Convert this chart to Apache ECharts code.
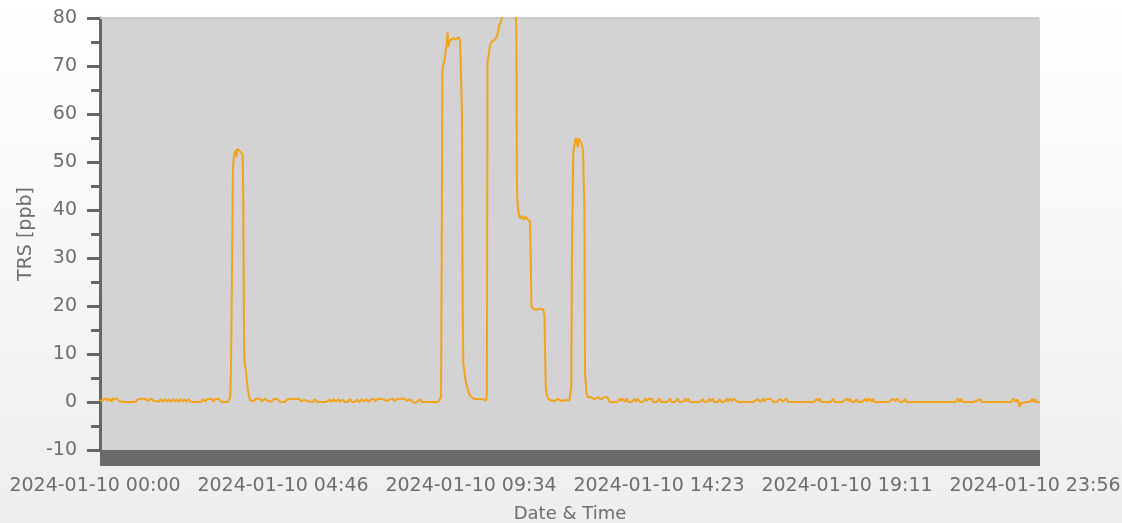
<!DOCTYPE html>
<html>
<head>
<meta charset="utf-8">
<title>TRS [ppb]</title>
<script src="https://cdn.jsdelivr.net/npm/echarts@6/dist/echarts.min.js"></script>
<style>
  html, body { margin: 0; padding: 0; }
  #chart { width: 1122px; height: 523px; }
</style>
</head>
<body>
<div id="chart"></div>
<script>
// Time axis runs in minutes after 2024-01-10 00:00.
const axisSpanMinutes = 1436;
const xTickLabels = [
  '2024-01-10 00:00', '2024-01-10 04:46', '2024-01-10 09:34',
  '2024-01-10 14:23', '2024-01-10 19:11', '2024-01-10 23:56'
];
const yTicks = { min: -10, max: 80, step: 10 };

// TRS readings, [minute, ppb]
const quietMorning = [
  [0,0.4],[2,0.7],[4,0.2],[6,0.7],[8,0.3],[10,0.7],[12,0.2],[14,0.7],[16,0.5],[18,0.1],
  [20,0.7],[23,0.3],[26,0.7],[29,0.2],[31,0.1],[35,0],[40,0],[45,0],[50,0],[55,0.1],
  [58,0.6],[61,0.2],[64,0.7],[67,0.3],[70,0.7],[73,0.2],[76,0.6],[79,0.7],[82,0.2],[85,0],
  [90,0.1],[93,0.6],[96,0.1],[99,0.6],[102,0.1],[105,0.6],[108,0],[111,0.6],[114,0.1],[117,0.6],
  [120,0],[123,0.6],[126,0.1],[129,0.6],[132,0],[135,0.6],[138,0.1],[141,0.5],[145,0],[150,0],
  [155,0.1],[158,0.6],[161,0.1],[164,0.6],[167,0.2],[170,0.7],[173,0.1],[176,0.6],[179,0.2],[182,0.6],
  [185,0],[190,0],[195,0],[198,0]
];
const firstPeak = [
  [199,1],[200,6],[201,18],[202,33],[203,48],[204,50.5],[206,52],[208,52.5],[209,51],[210,52.8],
  [212,53],[214,52.2],[216,52.6],[218,51.5],[219,40],[220,12],[221,8],[222,7.5],[224,5],[226,2.5],
  [228,1],[230,0.3]
];
const midMorning = [
  [232,0.6],[235,0.2],[238,0.7],[241,0.4],[244,0.7],[247,0.2],[250,0.6],[253,0.7],[256,0.2],[259,0.6],
  [262,0.1],[265,0.6],[268,0.2],[271,0.6],[274,0.1],[278,0],[282,0],[286,0.5],[289,0.1],[292,0.6],
  [295,0.2],[298,0.6],[301,0.3],[304,0.7],[307,0.2],[310,0.6],[313,0.4],[316,0.7],[319,0.1],[322,0.5],
  [325,0],[328,0.6],[331,0.1],[336,0],[341,0],[346,0],[351,0.5],[354,0],[357,0.6],[360,0.1],
  [364,0.6],[367,0],[371,0.5],[374,0],[378,0],[382,0.6],[385,0],[389,0],[393,0.5],[396,0],
  [400,0.6],[403,0.1],[407,0.6],[410,0],[414,0.5],[418,0.7],[421,0.2],[425,0.7],[428,0.3],[432,0.6],
  [435,0.7],[439,0.2],[443,0.6],[447,0.7],[450,0.2],[454,0.6],[458,0.7],[461,0.4],[465,0.7],[469,0.2],
  [473,0.6],[476,0.7],[478,0],[482,-0.2],[485,0],[489,0.6],[492,0],[497,0],[502,0],[507,0],
  [512,0],[516,0],[519,0]
];
const secondPeak = [
  [521,1],[522,30],[523,69],[524,70],[526,71],[528,73],[530,75],[531,77],[532,74],[534,75],
  [536,75.5],[538,75.2],[540,75.8],[542,76],[544,75.5],[546,75.8],[548,76],[550,75.4],[552,75],[553,60],
  [554,20],[555,8],[557,6],[559,4],[561,3],[563,2],[566,1.2],[569,0.8],[572,0.6],[575,0.8],
  [578,0.6],[581,0.9],[584,0.6],[587,0.8],[590,0.3]
];
const thirdPeak = [
  [591,2],[592,71],[594,72.5],[596,74.5],[598,75],[600,75.2],[603,75.5],[606,76],[608,77],[610,78.5],
  [612,79],[614,80],[617,80.6],[620,80.4],[623,80.8],[626,80.5],[629,80.7],[632,80.3],[635,80.5],[636,78],
  [637,45],[638,41],[640,39],[642,38.2],[644,38.8],[646,38.5],[648,38],[650,38.6],[652,38.4],[654,38],
  [656,38],[657,37.5],[658,30],[659,20],[661,19.5],[663,19.8],[666,19.2],[669,19.6],[672,19.4],[675,19],
  [677,19.3],[679,18],[680,10],[681,3],[683,1.2],[685,0.6],[688,0.7],[690,0.3],[693,0.6],[696,0.2],[699,0.7],
  [702,0.3],[705,0.2],[708,0.6],[711,0.4],[714,0.7],[717,0.3],[719,0.5]
];
const fourthPeak = [
  [720,3],[721,33],[722,42],[723,52],[725,53.5],[727,55],[729,54.8],[730,53],[731,55],[733,54.8],
  [735,54],[737,53],[738,52],[739,52],[740,40],[741,6],[742,4],[743,2],[745,1],[750,1],[755,0.6],
  [758,1],[762,1],[765,0.5],[770,1],[775,1],[778,1]
];
const quietAfternoon = [
  [779,0],[785,0],[790,0],[794,0.7],[796,0.2],[798,0.7],[800,0.6],[802,0.1],[805,0.7],[807,0],
  [812,0],[817,0.7],[819,0.1],[822,0.6],[825,0],[829,0],[833,0.7],[835,0.2],[838,0.7],[840,0.5],
  [843,0.7],[845,0],[850,0],[855,0.7],[857,0],[862,0],[866,0],[871,0.7],[873,0],[878,0],
  [883,0.7],[885,0],[890,0],[894,0.7],[896,0.1],[899,0.7],[901,0],[906,0],[911,0],[916,0],
  [921,0.6],[923,0],[927,0],[931,0.7],[933,0.1],[936,0.7],[938,0],[943,0],[947,0.6],[949,0],
  [953,0],[958,0.7],[960,0.1],[963,0.7],[966,0.2],[969,0.7],[972,0.6],[974,0],[980,0],[986,0],
  [992,0],[998,0],[1005,0.6],[1007,0.7],[1009,0],[1013,0.7],[1015,0.1],[1018,0.6],[1021,0.2],[1024,0.7],
  [1027,0.6],[1029,0],[1034,0],[1039,0.7],[1041,0.6],[1043,0.1],[1046,0],[1049,0.7],[1051,0],[1058,0],
  [1066,0],[1074,0],[1082,0],[1090,0],[1095,0.7],[1097,0.2],[1100,0.7],[1102,0],[1110,0],[1116,0],
  [1120,0.7],[1122,0],[1128,0],[1134,0],[1141,0.7],[1143,0.2],[1146,0.7],[1148,0],[1152,0],[1156,0.6],
  [1158,0],[1164,0],[1170,0.7],[1172,0.1],[1175,0.7],[1177,0.6],[1179,0.1],[1181,0.7],[1183,0],[1190,0],
  [1198,0],[1205,0],[1211,0.7],[1213,0.6],[1215,0.2],[1218,0.7],[1220,0.6],[1222,0],[1226,0],[1230,0.6],
  [1232,0],[1240,0],[1250,0],[1260,0],[1270,0],[1280,0],[1290,0],[1300,0],[1307,0],[1311,0.7],
  [1313,0],[1316,0.7],[1318,0],[1325,0],[1335,0],[1345,0.6],[1347,0],[1355,0],[1365,0],[1375,0],
  [1385,0],[1392,0],[1395,0.7],[1397,0.6],[1399,0],[1401,0.5],[1403,0],[1405,-1],[1407,-0.2],[1410,0],
  [1416,0],[1421,0],[1424,0.7],[1426,0],[1428,0.6],[1430,0],[1434,0],[1436,0]
];

const trsReadings = [].concat(
  quietMorning, firstPeak, midMorning, secondPeak, thirdPeak, fourthPeak, quietAfternoon
);

const labelTickValues = xTickLabels.map((_, i) => i * axisSpanMinutes / (xTickLabels.length - 1));

const textGrey = '#6d6d6d';
const axisGrey = '#666666';
const fontFamily = 'DejaVu Sans';

const chart = echarts.init(document.getElementById('chart'), null, { renderer: 'canvas' });

chart.setOption({
  animation: false,
  backgroundColor: new echarts.graphic.LinearGradient(0, 0, 0, 1, [
    { offset: 0, color: '#ffffff' },
    { offset: 1, color: '#eeeeee' }
  ]),
  grid: {
    left: 100,
    right: 82,
    top: 18,
    bottom: 73,
    outerBoundsMode: 'none',
    containLabel: false,
    show: true,
    backgroundColor: '#d3d3d3',
    borderWidth: 0
  },
  xAxis: [
    {
      type: 'value',
      min: 0,
      max: axisSpanMinutes,
      position: 'bottom',
      offset: 8,
      name: 'Date & Time',
      nameLocation: 'middle',
      nameGap: 47,
      nameTextStyle: { color: textGrey, fontSize: 18, fontFamily: fontFamily },
      axisLine: { show: true, onZero: false, lineStyle: { color: '#6a6a6a', width: 16, cap: 'butt' } },
      axisTick: { show: false },
      splitLine: { show: false },
      axisLabel: {
        customValues: labelTickValues,
        color: textGrey,
        fontSize: 19,
        fontFamily: fontFamily,
        margin: 19,
        padding: [0, 10, 0, 0],
        formatter: function (v) {
          const i = labelTickValues.findIndex(t => Math.abs(t - v) < 0.01);
          return i >= 0 ? xTickLabels[i] : '';
        }
      }
    },
    {
      // dotted upper edge of the plot
      type: 'value',
      position: 'top',
      min: 0,
      max: axisSpanMinutes,
      axisLine: { show: true, onZero: false, lineStyle: { color: '#c6c6c6', width: 2, type: 'dotted' } },
      axisTick: { show: false },
      axisLabel: { show: false },
      splitLine: { show: false }
    }
  ],
  yAxis: {
    type: 'value',
    min: yTicks.min,
    max: yTicks.max,
    interval: yTicks.step,
    name: 'TRS [ppb]',
    nameLocation: 'middle',
    nameGap: 62,
    nameTextStyle: { color: textGrey, fontSize: 19, fontFamily: fontFamily },
    axisLine: { show: true, onZero: false, lineStyle: { color: axisGrey, width: 3 } },
    axisTick: { show: true, length: 13, lineStyle: { color: axisGrey, width: 3 } },
    minorTick: { show: true, splitNumber: 2, length: 9, lineStyle: { color: axisGrey, width: 3 } },
    splitLine: { show: false },
    minorSplitLine: { show: false },
    axisLabel: {
      color: textGrey,
      fontSize: 19,
      fontFamily: fontFamily,
      margin: 23
    }
  },
  series: [
    {
      type: 'line',
      name: 'TRS',
      data: trsReadings,
      xAxisIndex: 0,
      showSymbol: false,
      symbol: 'none',
      clip: true,
      lineStyle: { color: '#f2a31b', width: 2 },
      itemStyle: { color: '#f2a31b' }
    }
  ]
});
</script>
</body>
</html>
